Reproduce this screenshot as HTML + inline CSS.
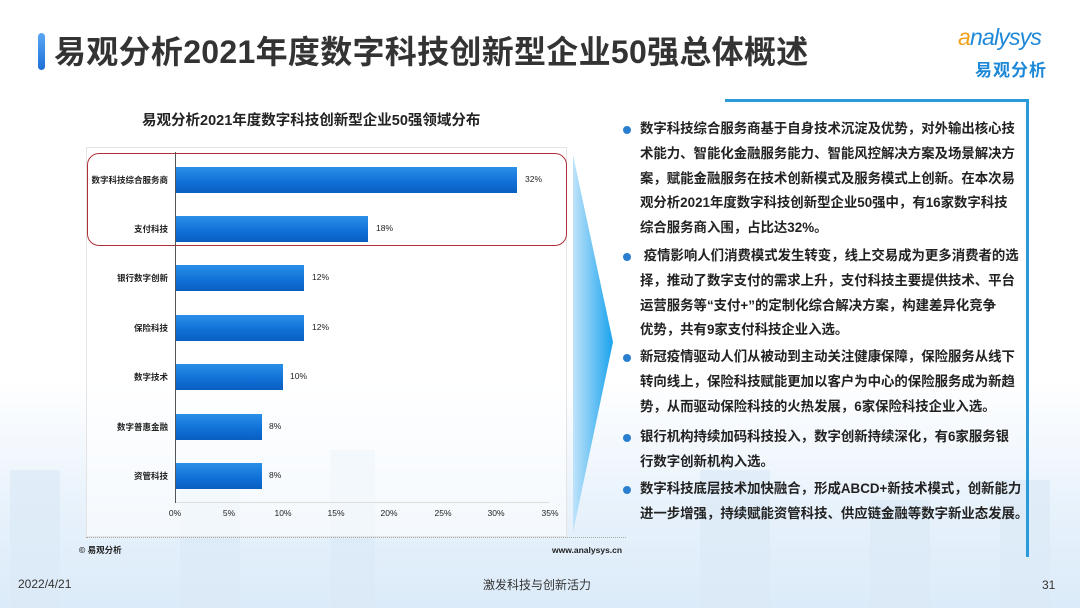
<!DOCTYPE html>
<html><head><meta charset="utf-8"><style>
*{margin:0;padding:0;box-sizing:border-box}
body{width:1080px;height:608px;position:relative;overflow:hidden;background:#fff;font-family:"Liberation Sans","Noto Sans CJK SC",sans-serif;color:#222}
.abs{position:absolute}
.bg{left:0;top:380px;width:1080px;height:228px;background:linear-gradient(to bottom,rgba(255,255,255,0),#e6f1fb 60%,#dcebf9)}
.b{position:absolute;background:#dceaf7;opacity:.7}
.bar{position:absolute;left:176px;height:26px;background:linear-gradient(to bottom,#2a8fe8,#0f6fd6 60%,#0a5fc0)}
.cat{position:absolute;right:912px;font-size:8.5px;font-weight:bold;color:#222;white-space:nowrap}
.val{position:absolute;font-size:8.5px;color:#222}
.tk{position:absolute;top:508px;font-size:8.5px;color:#222;width:30px;text-align:center}
.p{position:absolute;left:640px;font-size:13.4px;line-height:24.8px;font-weight:bold;color:#222;letter-spacing:0px;white-space:nowrap}
.dot{position:absolute;left:623px;width:8px;height:8px;border-radius:50%;background:#2a7fd0}
</style></head><body>
<div class="abs bg"></div>
<div class="b" style="left:10px;top:470px;width:50px;height:138px"></div>
<div class="b" style="left:180px;top:490px;width:60px;height:118px"></div>
<div class="b" style="left:330px;top:450px;width:45px;height:158px"></div>
<div class="b" style="left:700px;top:470px;width:70px;height:138px"></div>
<div class="b" style="left:870px;top:500px;width:60px;height:108px"></div>
<div class="b" style="left:1000px;top:480px;width:50px;height:128px"></div>

<div class="abs" style="left:38px;top:33px;width:7px;height:37px;border-radius:4px;background:linear-gradient(#5aa8f5,#1d6fd8)"></div>
<div class="abs" style="left:54px;top:32px;font-size:32px;line-height:40px;font-weight:bold;color:#333;letter-spacing:0.3px;white-space:nowrap">易观分析2021年度数字科技创新型企业50强总体概述</div>
<div class="abs" style="left:958px;top:24px;font-size:23px;font-style:italic;color:#1e88d8;letter-spacing:-0.8px"><span style="color:#f2a018">a</span>nalysys</div>
<div class="abs" style="left:975px;top:56px;font-size:17px;font-weight:bold;color:#1e88d8;letter-spacing:1px">易观分析</div>

<div class="abs" style="left:142px;top:109px;font-size:14.5px;font-weight:bold;color:#222">易观分析2021年度数字科技创新型企业50强领域分布</div>

<div class="abs" style="left:86px;top:147px;width:481px;height:390px;border:1px solid #e4e4e4;background:rgba(255,255,255,.6)"></div>
<div class="abs" style="left:86px;top:537px;width:540px;border-top:1px dotted #aaa"></div>
<div class="abs" style="left:87px;top:153px;width:480px;height:93px;border:1px solid #b0303a;border-radius:12px"></div>
<div class="abs" style="left:175px;top:152px;width:1px;height:351px;background:#555"></div>
<div class="abs" style="left:176px;top:502px;width:374px;height:1px;background:#ddd"></div>

<div class="bar" style="top:167px;width:341px"></div>
<div class="bar" style="top:216px;width:192px"></div>
<div class="bar" style="top:265px;width:128px"></div>
<div class="bar" style="top:315px;width:128px"></div>
<div class="bar" style="top:364px;width:107px"></div>
<div class="bar" style="top:414px;width:86px"></div>
<div class="bar" style="top:463px;width:86px"></div>

<div class="cat" style="top:174px">数字科技综合服务商</div>
<div class="cat" style="top:223px">支付科技</div>
<div class="cat" style="top:272px">银行数字创新</div>
<div class="cat" style="top:322px">保险科技</div>
<div class="cat" style="top:371px">数字技术</div>
<div class="cat" style="top:421px">数字普惠金融</div>
<div class="cat" style="top:470px">资管科技</div>

<div class="val" style="left:525px;top:174px">32%</div>
<div class="val" style="left:376px;top:223px">18%</div>
<div class="val" style="left:312px;top:272px">12%</div>
<div class="val" style="left:312px;top:322px">12%</div>
<div class="val" style="left:290px;top:371px">10%</div>
<div class="val" style="left:269px;top:421px">8%</div>
<div class="val" style="left:269px;top:470px">8%</div>

<div class="tk" style="left:160px">0%</div>
<div class="tk" style="left:214px">5%</div>
<div class="tk" style="left:268px">10%</div>
<div class="tk" style="left:321px">15%</div>
<div class="tk" style="left:374px">20%</div>
<div class="tk" style="left:428px">25%</div>
<div class="tk" style="left:481px">30%</div>
<div class="tk" style="left:535px">35%</div>

<div class="abs" style="left:79px;top:544px;font-size:8.5px;font-weight:bold">© 易观分析</div>
<div class="abs" style="left:552px;top:545px;font-size:8.5px;font-weight:bold">www.analysys.cn</div>

<svg class="abs" style="left:570px;top:150px" width="50" height="390"><defs><linearGradient id="g" x1="0" x2="1"><stop offset="0" stop-color="#bfe3fa"/><stop offset="1" stop-color="#1aa3ee"/></linearGradient></defs><polygon points="3,5 43,192 3,382" fill="url(#g)"/></svg>

<div class="abs" style="left:725px;top:99px;width:304px;height:3px;background:#2a9ad8"></div>
<div class="abs" style="left:1026px;top:99px;width:3px;height:458px;background:#2a9ad8"></div>

<div class="dot" style="top:126px"></div>
<div class="p" style="top:117px">数字科技综合服务商基于自身技术沉淀及优势，对外输出核心技<br>术能力、智能化金融服务能力、智能风控解决方案及场景解决方<br>案，赋能金融服务在技术创新模式及服务模式上创新。在本次易<br>观分析2021年度数字科技创新型企业50强中，有16家数字科技<br>综合服务商入围，占比达32%。</div>
<div class="dot" style="top:253px"></div>
<div class="p" style="top:244px">&nbsp;疫情影响人们消费模式发生转变，线上交易成为更多消费者的选<br>择，推动了数字支付的需求上升，支付科技主要提供技术、平台<br>运营服务等“支付+”的定制化综合解决方案，构建差异化竞争<br>优势，共有9家支付科技企业入选。</div>
<div class="dot" style="top:354px"></div>
<div class="p" style="top:345px">新冠疫情驱动人们从被动到主动关注健康保障，保险服务从线下<br>转向线上，保险科技赋能更加以客户为中心的保险服务成为新趋<br>势，从而驱动保险科技的火热发展，6家保险科技企业入选。</div>
<div class="dot" style="top:434px"></div>
<div class="p" style="top:425px">银行机构持续加码科技投入，数字创新持续深化，有6家服务银<br>行数字创新机构入选。</div>
<div class="dot" style="top:486px"></div>
<div class="p" style="top:477px">数字科技底层技术加快融合，形成ABCD+新技术模式，创新能力<br>进一步增强，持续赋能资管科技、供应链金融等数字新业态发展。</div>

<div class="abs" style="left:18px;top:577px;font-size:12px;color:#333">2022/4/21</div>
<div class="abs" style="left:483px;top:576px;font-size:12px;color:#333">激发科技与创新活力</div>
<div class="abs" style="left:1042px;top:578px;font-size:12px;color:#333">31</div>
</body></html>
